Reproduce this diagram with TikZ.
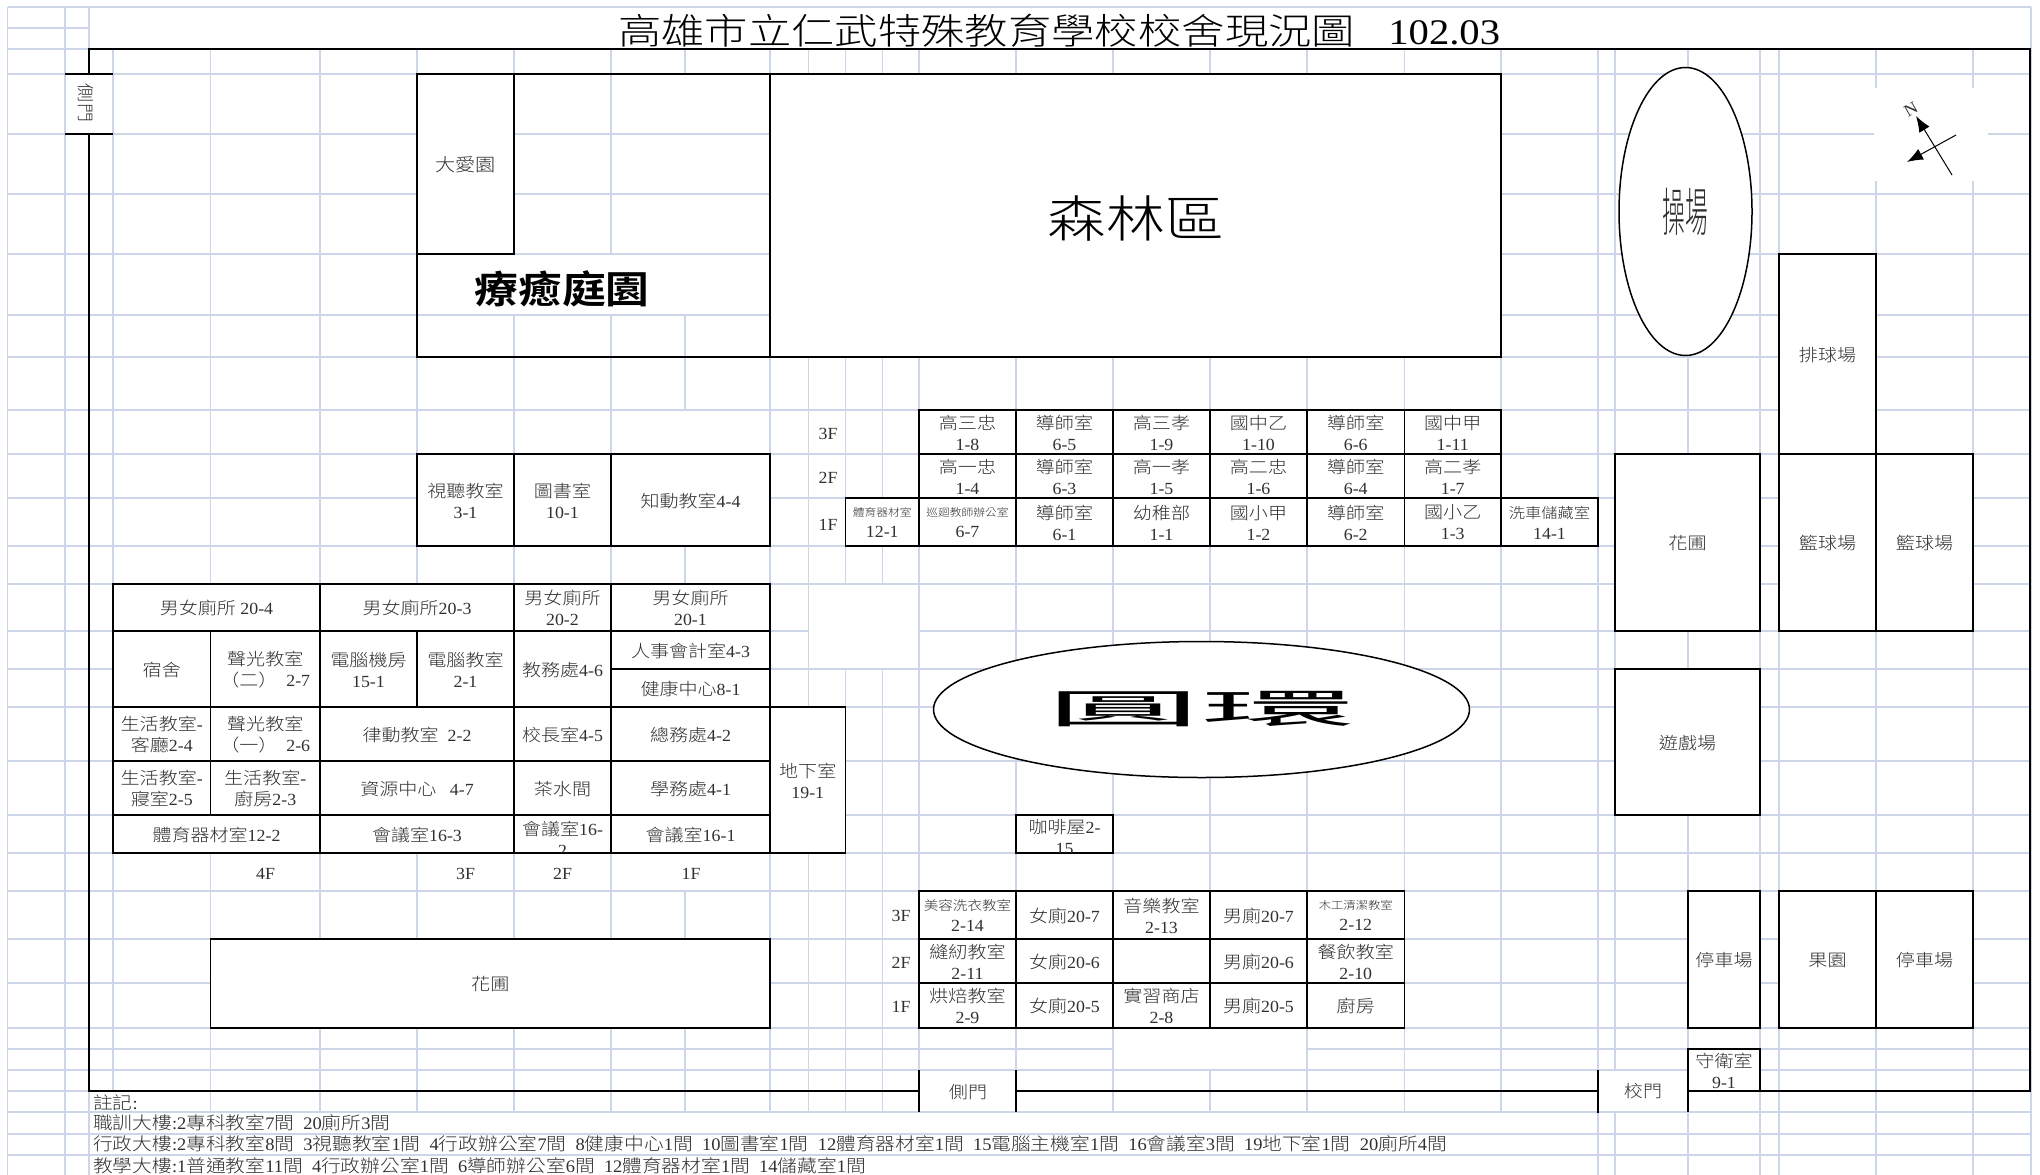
\documentclass[tikz,border=0pt]{standalone}
\usepackage{fontspec}
\usepackage{graphicx}
\usetikzlibrary{shapes.geometric,arrows.meta}
\setmainfont[FakeStretch=1.05]{Liberation Serif}
\newfontfamily\latf[FakeStretch=1.05]{Liberation Serif}
\newfontfamily\cjkf[FakeStretch=1.12,BoldFont={Noto Sans CJK TC Bold}]{Noto Sans CJK TC Light}
\newfontfamily\cjkreg[FakeStretch=1.12]{Noto Sans CJK TC}
% automatic switch between Latin and CJK fonts
\XeTeXinterchartokenstate=1
\newXeTeXintercharclass\cjkcls
\count255="2E80
\loop\XeTeXcharclass\count255=\cjkcls\advance\count255 1 \ifnum\count255<"A000 \repeat
\count255="F900
\loop\XeTeXcharclass\count255=\cjkcls\advance\count255 1 \ifnum\count255<"FB00 \repeat
\count255="FF00
\loop\XeTeXcharclass\count255=\cjkcls\advance\count255 1 \ifnum\count255<"FFF0 \repeat
\XeTeXinterchartoks 0 \cjkcls={\cjkf}
\XeTeXinterchartoks 4095 \cjkcls={\cjkf}
\XeTeXinterchartoks \cjkcls 0 ={\latf}
\XeTeXinterchartoks \cjkcls 4095 ={\latf}
\definecolor{gridc}{HTML}{CDD6E8}
\definecolor{txtc}{HTML}{303030}
\tikzset{
  gridl/.style={draw=gridc,line width=1.25pt},
  blk/.style={draw=black,line width=1.5pt},
  thick bar/.style={draw=black,line width=2.6pt},
  wipe/.style={fill=white,draw=none},
  roomb/.style={blk,fill=white,inner sep=0pt,outer sep=0pt},
  lbl/.style={inner sep=0pt,align=center,text=txtc,font=\fontsize{17}{21}\selectfont},
  notel/.style={inner sep=0pt,anchor=west,text=txtc,font=\fontsize{17.6}{20}\selectfont},
}
\newcommand{\rmbox}[6][]{%
  \pgfmathsetmacro\wdd{#5-#3}\pgfmathsetmacro\htt{#6-#4}%
  \node[roomb,minimum width=\wdd pt,minimum height=\htt pt,anchor=north west,#1] (#2) at (#3,#4) {};
  \node[lbl,yshift=-0.6pt] (#2t) at (#2.center) {\rmtxt};}
\newcommand{\rmtxt}{}
\newcommand{\R}[7][]{\renewcommand{\rmtxt}{#7}\rmbox[#1]{#2}{#3}{#4}{#5}{#6}}
\begin{document}
\begin{tikzpicture}[x=1pt,y=-1pt]
\useasboundingbox (0,0) rectangle (2040,1175);
\fill[white] (0,0) rectangle (2040,1175);
% ---------- spreadsheet grid
\foreach \yy in {7,49,74,134,194,254,315,357,410,454,498,546,584,631,669,707,761,815,853,891,939,983,1028,1049,1070,1091,1112,1134,1155}
  \draw[gridl] (7.6,\yy) -- (2031,\yy);
\draw[gridl] (7.6,28) -- (89,28);
\foreach \xx in {7.6,65,89,2031} \draw[gridl] (\xx,7) -- (\xx,1175);
\foreach \xx in {113,210.5,320,417,514,611,770,808.5,845.5,882.5,919,1016,1113,1210,1307,1404.5,1501,1598,1615,1688,1760,1779,1876,1973}
  \draw[gridl] (\xx,49) -- (\xx,1175);
\draw[gridl] (685,49) -- (685,74) (685,315) -- (685,410) (685,546) -- (685,584) (685,891) -- (685,939) (685,1028) -- (685,1112);
% ---------- merged cells without grid
\fill[wipe] (90,8) rectangle (2030.4,48.4);
\fill[wipe] (66,75) rectangle (112.4,133);
\fill[wipe] (418,255) rectangle (769,314);
\fill[wipe] (809,585) rectangle (918.4,668);
\fill[wipe] (1308,547) rectangle (1403.9,583.4);
\fill[wipe] (612,854) rectangle (769,890);
\fill[wipe] (1114,1029) rectangle (1306,1069.4);
\fill[wipe] (1874,88) rectangle (1988,181);
\fill[wipe] (91,1092) rectangle (209.9,1111.4);
\fill[wipe] (919,1071) rectangle (1016,1111.4);
\fill[wipe] (1598,1071) rectangle (1688,1111.4);
\fill[wipe] (91,1113) rectangle (1597.4,1133.4);
\fill[wipe] (91,1135) rectangle (1597.4,1154.4);
\fill[wipe] (91,1156) rectangle (1597.4,1175);
% ---------- outer frame and gates
\draw[blk] (89,74) -- (89,49) -- (2030,49) -- (2030,1091) -- (1688,1091);
\draw[blk] (1598,1091) -- (1016,1091);
\draw[blk] (919,1091) -- (89,1091) -- (89,134);
\draw[thick bar] (65,74) -- (113,74);
\draw[thick bar] (65,134) -- (113,134);
\draw[thick bar] (919,1070) -- (919,1112);
\draw[thick bar] (1016,1070) -- (1016,1112);
\draw[thick bar] (1598,1070) -- (1598,1113);
\draw[thick bar] (1688,1091) -- (1688,1112);
\node[lbl,rotate=-90] (gateW) at (85.5,103) {側門};
\node[lbl] (gateS) at (968,1092) {側門};
\node[lbl] (gateM) at (1643,1091.5) {校門};
% ---------- title
\node[anchor=base west,inner sep=0pt,text=black,font=\fontsize{36}{40}\selectfont] (title) at (618,44)
  {\scalebox{1.075}[1]{高雄市立仁武特殊教育學校校舍現況圖\hspace{31pt}102.03}};
% ---------- north-west gardens
\draw[blk] (417,74) rectangle (770,357);
\R{daai}{417}{74}{514}{254}{\fontsize{18}{21}\selectfont 大愛園}
\node[inner sep=0pt,text=black,font=\fontsize{38}{42}\selectfont\bfseries] (heal) at (562,289) {\scalebox{1.03}[1]{療癒庭園}};
\R{forest}{770}{74}{1501}{357}{}
\node[inner sep=0pt,text=black,font=\fontsize{50}{54}\selectfont] (forestT) at (1136,219) {\scalebox{1.05}[1]{森林區}};
% ---------- ovals
\node[blk,fill=white,ellipse,inner sep=0pt,minimum width=133pt,minimum height=288pt,text=txtc,font=\fontsize{52}{54}\selectfont] (field) at (1685.5,211.5) {\scalebox{.39}[1]{操場}};
\node[blk,fill=white,ellipse,inner sep=0pt,minimum width=536pt,minimum height=136pt,text=black,font=\fontsize{40}{42}\selectfont] (yuan) at (1201.5,709.5) {\scalebox{3.45}[1]{\XeTeXinterchartokenstate=0 \cjkreg 圓環}};
% ---------- compass
\coordinate (cA) at (1952,175); \coordinate (cB) at (1916,116);
\coordinate (cC) at (1956,135); \coordinate (cD) at (1907,162);
\draw[line width=1pt,-{Latex[length=16pt,width=12pt]}] (cA) -- (cB);
\draw[line width=1pt,-{Latex[length=16pt,width=12pt]}] (cC) -- (cD);
\node[inner sep=0pt,rotate=30,text=txtc,font=\fontsize{17}{17}\selectfont] (north) at (1911,109) {N};
% ---------- library row
\R{b31}{417}{454}{514}{546}{視聽教室\\3-1}
\R{b101}{514}{454}{611}{546}{圖書室\\10-1}
\R{b44}{611}{454}{770}{546}{知動教室4-4}
% ---------- teaching block
\R{a18}{919}{410}{1016}{454}{高三忠\\1-8}
\R{a65}{1016}{410}{1113}{454}{導師室\\6-5}
\R{a19}{1113}{410}{1210}{454}{高三孝\\1-9}
\R{a110}{1210}{410}{1307}{454}{國中乙\\1-10}
\R{a66}{1307}{410}{1404.5}{454}{導師室\\6-6}
\R{a111}{1404.5}{410}{1501}{454}{國中甲\\1-11}
\R{a14}{919}{454}{1016}{498}{高一忠\\1-4}
\R{a63}{1016}{454}{1113}{498}{導師室\\6-3}
\R{a15}{1113}{454}{1210}{498}{高一孝\\1-5}
\R{a16}{1210}{454}{1307}{498}{高二忠\\1-6}
\R{a64}{1307}{454}{1404.5}{498}{導師室\\6-4}
\R{a17}{1404.5}{454}{1501}{498}{高二孝\\1-7}
\R{a121}{845.5}{498}{919}{546}{{\fontsize{10.5}{21}\selectfont 體育器材室}\\12-1}
\R{a67}{919}{498}{1016}{546}{{\fontsize{10.5}{21}\selectfont 巡廻教師辦公室}\\6-7}
\R{a61}{1016}{498}{1113}{546}{導師室\\6-1}
\R{a11}{1113}{498}{1210}{546}{幼稚部\\1-1}
\R{a12}{1210}{498}{1307}{546}{國小甲\\1-2}
\R{a62}{1307}{498}{1404.5}{546}{導師室\\6-2}
\R{a13}{1404.5}{498}{1501}{546}{國小乙\\1-3}
\R{a141}{1501}{498}{1598}{546}{{\fontsize{14.5}{21}\selectfont 洗車儲藏室}\\14-1}
\node[lbl] (fa3) at (828,434) {3F};
\node[lbl] (fa2) at (828,478) {2F};
\node[lbl] (fa1) at (828,525) {1F};
% ---------- administration block
\R{c204}{113}{584}{320}{631}{男女廁所 20-4}
\R{c203}{320}{584}{514}{631}{男女廁所20-3}
\R{c202}{514}{584}{611}{631}{男女廁所\\20-2}
\R{c201}{611}{584}{770}{631}{男女廁所\\20-1}
\R{dorm}{113}{631}{210.5}{707}{宿舍}
\R{c27}{210.5}{631}{320}{707}{聲光教室\\（二）\ \ 2-7}
\R{c151}{320}{631}{417}{707}{電腦機房\\15-1}
\R{c21}{417}{631}{514}{707}{電腦教室\\2-1}
\R{c46}{514}{631}{611}{707}{教務處4-6}
\R{c43}{611}{631}{770}{669}{人事會計室4-3}
\R{c81}{611}{669}{770}{707}{健康中心8-1}
\R{c24}{113}{707}{210.5}{761}{生活教室-\\客廳2-4}
\R{c26}{210.5}{707}{320}{761}{聲光教室\\（一）\ \ 2-6}
\R{c22}{320}{707}{514}{761}{律動教室\ \ 2-2}
\R{c45}{514}{707}{611}{761}{校長室4-5}
\R{c42}{611}{707}{770}{761}{總務處4-2}
\R{c25}{113}{761}{210.5}{815}{生活教室-\\寢室2-5}
\R{c23}{210.5}{761}{320}{815}{生活教室-\\廚房2-3}
\R{c47}{320}{761}{514}{815}{資源中心\ \ \ 4-7}
\R{tea}{514}{761}{611}{815}{茶水間}
\R{c41}{611}{761}{770}{815}{學務處4-1}
\R{c122}{113}{815}{320}{853}{體育器材室12-2}
\R{c163}{320}{815}{514}{853}{會議室16-3}
\R{c162}{514}{815}{611}{853}{}
\begin{scope}
  \clip (514,815) rectangle (611,852);
  \node[lbl] (c162x) at (562.5,838.5) {會議室16-\\2};
\end{scope}
\R{c161}{611}{815}{770}{853}{會議室16-1}
\R{c191}{770}{707}{845.5}{853}{地下室\\19-1}
\node[lbl] (fc4) at (265.5,873.5) {4F};
\node[lbl] (fc3) at (465.5,873.5) {3F};
\node[lbl] (fc2) at (562.5,873.5) {2F};
\node[lbl] (fc1) at (691,873.5) {1F};
% ---------- cafe
\R{cafe}{1016}{815}{1113}{853}{}
\begin{scope}
  \clip (1016,815) rectangle (1113,852);
  \node[lbl] (cafex) at (1064.5,837.5) {咖啡屋2-\\15};
\end{scope}
% ---------- vocational block
\R{d214}{919}{891}{1016}{939}{{\fontsize{13}{21}\selectfont 美容洗衣教室}\\2-14}
\R{d207}{1016}{891}{1113}{939}{女廁20-7}
\R{d213}{1113}{891}{1210}{939}{音樂教室\\2-13}
\R{e207}{1210}{891}{1307}{939}{男廁20-7}
\R{d212}{1307}{891}{1404.5}{939}{{\fontsize{11}{21}\selectfont 木工清潔教室}\\2-12}
\R{d211}{919}{939}{1016}{983}{縫紉教室\\2-11}
\R{d206}{1016}{939}{1113}{983}{女廁20-6}
\R{dempty}{1113}{939}{1210}{983}{}
\R{e206}{1210}{939}{1307}{983}{男廁20-6}
\R{d210}{1307}{939}{1404.5}{983}{餐飲教室\\2-10}
\R{d29}{919}{983}{1016}{1028}{烘焙教室\\2-9}
\R{d205}{1016}{983}{1113}{1028}{女廁20-5}
\R{d28}{1113}{983}{1210}{1028}{實習商店\\2-8}
\R{e205}{1210}{983}{1307}{1028}{男廁20-5}
\R{kitchen}{1307}{983}{1404.5}{1028}{廚房}
\node[lbl] (fd3) at (901,916) {3F};
\node[lbl] (fd2) at (901,963) {2F};
\node[lbl] (fd1) at (901,1007) {1F};
% ---------- outdoor
\R{gardenS}{210.5}{939}{770}{1028}{花圃}
\R{gardenE}{1615}{454}{1760}{631}{花圃}
\R{play}{1615}{669}{1760}{815}{遊戲場}
\R{volley}{1779}{254}{1876}{454}{排球場}
\R{bask1}{1779}{454}{1876}{631}{籃球場}
\R{bask2}{1876}{454}{1973}{631}{籃球場}
\R{park1}{1688}{891}{1760}{1028}{停車場}
\R{orchard}{1779}{891}{1876}{1028}{果園}
\R{park2}{1876}{891}{1973}{1028}{停車場}
\R{guard}{1688}{1049}{1760}{1091}{守衛室\\9-1}
% ---------- notes
\node[notel] (n0) at (93,1102.5) {註記:};
\node[notel] (n1) at (93,1123) {職訓大樓:2專科教室7間\ \ 20廁所3間};
\node[notel] (n2) at (93,1144) {行政大樓:2專科教室8間\ \ 3視聽教室1間\ \ 4行政辦公室7間\ \ 8健康中心1間\ \ 10圖書室1間\ \ 12體育器材室1間\ \ 15電腦主機室1間\ \ 16會議室3間\ \ 19地下室1間\ \ 20廁所4間};
\node[notel] (n3) at (93,1165.5) {教學大樓:1普通教室11間\ \ 4行政辦公室1間\ \ 6導師辦公室6間\ \ 12體育器材室1間\ \ 14儲藏室1間};
\end{tikzpicture}
\end{document}
